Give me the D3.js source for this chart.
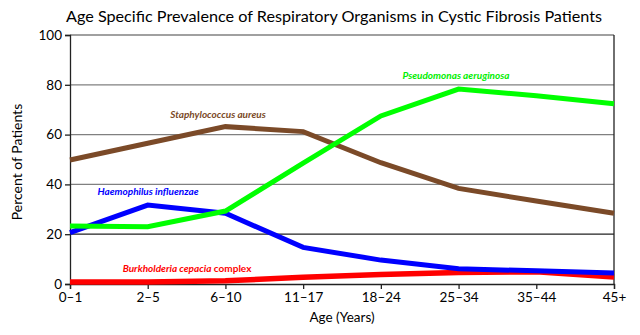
<!DOCTYPE html>
<html lang="en">
<head>
    <meta charset="UTF-8">
    <title>Age Specific Prevalence of Respiratory Organisms</title>
    <script src="https://d3js.org/d3.v7.min.js"></script>
    <style>
        body { margin: 0; background: #fff; }
        svg text { font-family: Lato, "Open Sans", sans-serif; fill: #000; }
        .series-label { font-size: 10px; font-weight: bold; }
    </style>
</head>
<body>
    <svg id="chart"></svg>

    <script>
        // Age groups along the x axis
        const ageGroups = ["0\u20131", "2\u20135", "6\u201310", "11\u201317", "18\u201324", "25\u201334", "35\u201344", "45+"];

        // Percent of patients per organism
        const pseudomonas = [23.3, 23.0, 29.3, 48.5, 67.5, 78.3, 75.6, 72.4];
        const staphylococcus = [49.8, 56.5, 63.2, 61.2, 48.7, 38.4, 33.3, 28.4];
        const haemophilus = [20.6, 31.7, 28.4, 14.7, 9.6, 6.1, 5.3, 4.4];
        const burkholderia = [0.8, 0.8, 1.3, 2.7, 3.8, 4.6, 4.9, 2.8];

        const yTicks = [0, 20, 40, 60, 80, 100];

        const width = 640;
        const height = 335;
        const margin = { top: 35, right: 26, bottom: 51, left: 70 };

        const svg = d3.select("#chart")
            .attr("width", width)
            .attr("height", height);

        const x = d3.scalePoint()
            .domain(ageGroups)
            .range([margin.left, width - margin.right]);

        const y = d3.scaleLinear()
            .domain([0, 100])
            .range([height - margin.bottom, margin.top]);

        // horizontal grid lines (20 is drawn darker, like the original)
        svg.append("g")
            .selectAll("line")
            .data(yTicks.filter(d => d > 0))
            .join("line")
            .attr("x1", margin.left)
            .attr("x2", width - margin.right)
            .attr("y1", d => y(d))
            .attr("y2", d => y(d))
            .attr("stroke", d => d === 20 ? "#222" : "#808080")
            .attr("stroke-width", 1.3);

        // right border
        svg.append("line")
            .attr("x1", width - margin.right)
            .attr("x2", width - margin.right)
            .attr("y1", y(100))
            .attr("y2", y(0))
            .attr("stroke", "#222")
            .attr("stroke-width", 1.3);

        // axes
        const xAxis = svg.append("g")
            .attr("transform", `translate(0,${y(0)})`)
            .call(d3.axisBottom(x).tickSize(5).tickPadding(3));

        const yAxis = svg.append("g")
            .attr("transform", `translate(${margin.left},0)`)
            .call(d3.axisLeft(y).tickValues(yTicks).tickSize(5).tickPadding(3));

        [xAxis, yAxis].forEach(g => {
            g.select(".domain").attr("stroke", "#222").attr("stroke-width", 1.3);
            g.selectAll(".tick line").attr("stroke", "#222").attr("stroke-width", 1.3);
            g.selectAll(".tick text")
                .style("font-family", "Lato, sans-serif")
                .style("font-size", "13.5px")
                .attr("fill", "#000");
        });

        // series lines
        const series = [
            { values: burkholderia, color: "#ff0000", width: 5.5 },
            { values: haemophilus, color: "#0000ff", width: 5 },
            { values: staphylococcus, color: "#7b4a28", width: 5 },
            { values: pseudomonas, color: "#00ff00", width: 5 }
        ];

        const line = d3.line()
            .x((d, i) => x(ageGroups[i]))
            .y(d => y(d));

        svg.append("g")
            .selectAll("path")
            .data(series)
            .join("path")
            .attr("d", d => line(d.values))
            .attr("fill", "none")
            .attr("stroke", d => d.color)
            .attr("stroke-width", d => d.width)
            .attr("stroke-linejoin", "miter");

        // series labels
        const addLabel = (cx, cy, color, parts) => {
            const t = svg.append("text")
                .attr("class", "series-label")
                .attr("x", cx)
                .attr("y", cy)
                .attr("text-anchor", "middle")
                .style("fill", color);
            parts.forEach(p => {
                t.append("tspan")
                    .style("font-style", p.italic ? "italic" : "normal")
                    .text(p.text);
            });
        };

        addLabel(456, 79, "#00ee00", [{ text: "Pseudomonas aeruginosa", italic: true }]);
        addLabel(218, 118, "#7b4a28", [{ text: "Staphylococcus aureus", italic: true }]);
        addLabel(148, 195, "#0000ff", [{ text: "Haemophilus influenzae", italic: true }]);
        addLabel(187, 272, "#ff0000", [
            { text: "Burkholderia cepacia", italic: true },
            { text: " complex", italic: false }
        ]);

        // title and axis titles
        svg.append("text")
            .attr("x", 334)
            .attr("y", 22)
            .attr("text-anchor", "middle")
            .style("font-size", "16.2px")
            .text("Age Specific Prevalence of Respiratory Organisms in Cystic Fibrosis Patients");

        svg.append("text")
            .attr("x", 342)
            .attr("y", 322)
            .attr("text-anchor", "middle")
            .style("font-size", "13.5px")
            .text("Age (Years)");

        svg.append("text")
            .attr("transform", "translate(22,162) rotate(-90)")
            .attr("text-anchor", "middle")
            .style("font-size", "14px")
            .text("Percent of Patients");
    </script>
</body>
</html>
